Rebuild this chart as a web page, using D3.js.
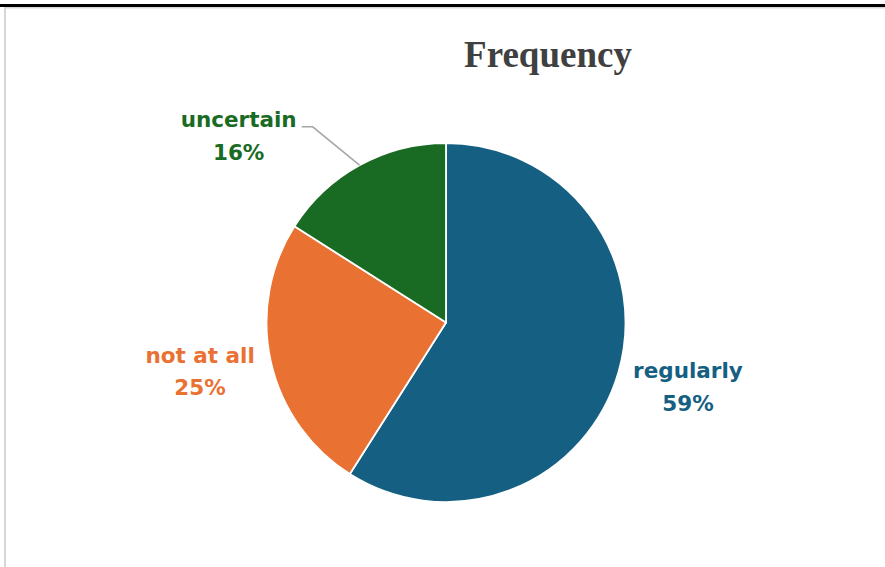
<!DOCTYPE html>
<html>
<head>
<meta charset="utf-8">
<script src="https://cdn.jsdelivr.net/npm/d3@7"></script>
<style>
  html, body { margin: 0; padding: 0; background: #fff; }
  svg { display: block; }
</style>
</head>
<body>
<svg class="chart"></svg>
<script>
const width = 885;
const height = 567;

const categories = ['regularly', 'not at all', 'uncertain'];
const values = [59, 25, 16];
const colors = ['#156082', '#E97132', '#196B24'];
const title = 'Frequency';

const cx = 446;
const cy = 322.5;
const radius = 179.5;
const labelRadius = 252;

const svg = d3.select('svg.chart')
    .attr('width', width)
    .attr('height', height);

// frame: black bar on top, light border of the chart area
svg.append('rect')
    .attr('x', 5)
    .attr('y', 7.5)
    .attr('width', width + 20)
    .attr('height', height + 20)
    .attr('fill', 'none')
    .attr('stroke', '#d6d6d6')
    .attr('stroke-width', 2);

svg.append('rect')
    .attr('x', 0)
    .attr('y', 4)
    .attr('width', width)
    .attr('height', 3)
    .attr('fill', '#000');

svg.append('text')
    .attr('x', 548)
    .attr('y', 67)
    .attr('text-anchor', 'middle')
    .attr('font-family', '"Liberation Serif", "Times New Roman", serif')
    .attr('font-weight', 'bold')
    .attr('font-size', 37)
    .attr('fill', '#404040')
    .text(title);

const data = categories.map((c, i) => ({ name: c, value: values[i], color: colors[i] }));

const pie = d3.pie()
    .value(d => d.value)
    .sort(null);

const arc = d3.arc()
    .innerRadius(0)
    .outerRadius(radius);

const arcs = pie(data);
const total = d3.sum(values);

const g = svg.append('g')
    .attr('transform', `translate(${cx},${cy})`);

g.selectAll('path')
    .data(arcs)
    .join('path')
    .attr('d', arc)
    .attr('fill', d => d.data.color)
    .attr('stroke', '#fff')
    .attr('stroke-width', 1.8)
    .attr('stroke-linejoin', 'round');

// label placement; the small slice is pulled out with a leader line
const labelOverride = { 'uncertain': { angle: 312 * Math.PI / 180, r: 279 } };

const labels = g.selectAll('g.label')
    .data(arcs)
    .join('g')
    .attr('class', 'label')
    .each(function (d) {
        const mid = (d.startAngle + d.endAngle) / 2;
        const ov = labelOverride[d.data.name];
        let lx, ly;
        if (ov) {
            lx = Math.sin(ov.angle) * ov.r;
            ly = -Math.cos(ov.angle) * ov.r;
        } else {
            lx = Math.sin(mid) * labelRadius;
            ly = -Math.cos(mid) * labelRadius - 6;
        }
        const grp = d3.select(this);
        const t = grp.append('text')
            .attr('text-anchor', 'middle')
            .attr('font-family', '"DejaVu Sans", sans-serif')
            .attr('font-weight', 'bold')
            .attr('font-size', 21.5)
            .attr('fill', d.data.color);
        t.append('tspan')
            .attr('x', lx)
            .attr('y', ly - 8.5)
            .text(d.data.name);
        t.append('tspan')
            .attr('x', lx)
            .attr('y', ly + 24)
            .text(Math.round(d.data.value / total * 100) + '%');

        if (ov) {
            const w = t.select('tspan').node().getComputedTextLength();
            const x0 = lx + w / 2 + 5;
            const y0 = ly - 9;
            const ex = Math.sin(mid) * radius;
            const ey = -Math.cos(mid) * radius;
            grp.append('polyline')
                .attr('points', `${x0},${y0} ${x0 + 11},${y0} ${ex},${ey}`)
                .attr('fill', 'none')
                .attr('stroke', '#a6a6a6')
                .attr('stroke-width', 1.5);
        }
    });
</script>
</body>
</html>
